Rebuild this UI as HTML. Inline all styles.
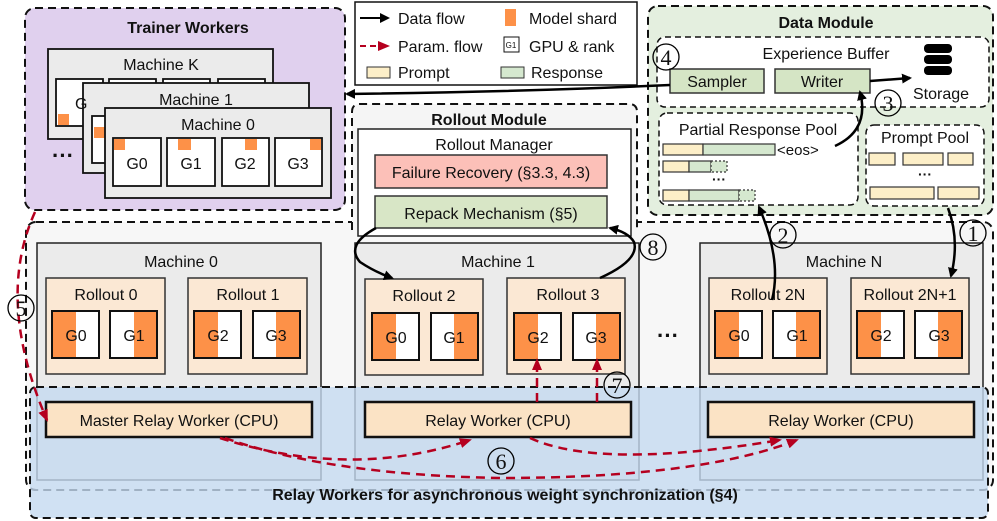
<!DOCTYPE html>
<html><head><meta charset="utf-8"><style>
html,body{margin:0;padding:0;background:#fff}
svg{display:block}
text{font-family:"Liberation Sans",sans-serif;fill:#111}
</style></head><body>
<svg width="997" height="521" viewBox="0 0 997 521" xmlns="http://www.w3.org/2000/svg">
<defs>
<marker id="ab" markerWidth="10" markerHeight="10" refX="8" refY="5" orient="auto" markerUnits="userSpaceOnUse"><path d="M0,0 L10,5 L0,10 z" fill="#000"/></marker>
<marker id="ar" markerWidth="12" markerHeight="10" refX="10" refY="5" orient="auto" markerUnits="userSpaceOnUse"><path d="M0,0 L12,5 L0,10 z" fill="#b5001f"/></marker>
</defs>

<!-- lower big container -->
<rect x="26" y="222" width="967" height="268" rx="10" fill="#f7f7f7" stroke="#111" stroke-width="2" stroke-dasharray="8,5"/>

<!-- machines -->
<g stroke="#222" stroke-width="1.5">
<rect x="37" y="243" width="284" height="237" fill="#ebebeb"/>
<rect x="355" y="243" width="284" height="237" fill="#ebebeb"/>
<rect x="700" y="243" width="283" height="237" fill="#ebebeb"/>
</g>
<g font-size="16" text-anchor="middle">
<text x="181" y="267">Machine 0</text>
<text x="498" y="267">Machine 1</text>
<text x="844" y="267">Machine N</text>
</g>

<!-- rollouts -->
<g stroke="#333" stroke-width="1.5" fill="#fbe8d4">
<rect x="46" y="278" width="119" height="96"/>
<rect x="188" y="278" width="119" height="96"/>
<rect x="365" y="279" width="118" height="96"/>
<rect x="507" y="278" width="118" height="96"/>
<rect x="709" y="278" width="118" height="96"/>
<rect x="851" y="278" width="118" height="96"/>
</g>
<g font-size="16" text-anchor="middle">
<text x="106" y="300">Rollout 0</text>
<text x="248" y="300">Rollout 1</text>
<text x="424" y="301">Rollout 2</text>
<text x="568" y="300">Rollout 3</text>
<text x="768" y="300">Rollout 2N</text>
<text x="910" y="300">Rollout 2N+1</text>
</g>
<!-- GPU boxes: left-orange (even) and right-orange (odd) -->
<g stroke="#111" stroke-width="2">
<!-- pair template -->
<g><rect x="52" y="311" width="47" height="47" fill="#fff"/><rect x="52" y="311" width="24" height="47" fill="#fd9148" stroke="none"/><rect x="52" y="311" width="47" height="47" fill="none"/></g>
<g><rect x="110" y="311" width="47" height="47" fill="#fff"/><rect x="134" y="311" width="23" height="47" fill="#fd9148" stroke="none"/><rect x="110" y="311" width="47" height="47" fill="none"/></g>
<g><rect x="194" y="311" width="47" height="47" fill="#fff"/><rect x="194" y="311" width="24" height="47" fill="#fd9148" stroke="none"/><rect x="194" y="311" width="47" height="47" fill="none"/></g>
<g><rect x="253" y="311" width="47" height="47" fill="#fff"/><rect x="276" y="311" width="24" height="47" fill="#fd9148" stroke="none"/><rect x="253" y="311" width="47" height="47" fill="none"/></g>

<g><rect x="372" y="313" width="47" height="47" fill="#fff"/><rect x="372" y="313" width="24" height="47" fill="#fd9148" stroke="none"/><rect x="372" y="313" width="47" height="47" fill="none"/></g>
<g><rect x="431" y="313" width="47" height="47" fill="#fff"/><rect x="454" y="313" width="24" height="47" fill="#fd9148" stroke="none"/><rect x="431" y="313" width="47" height="47" fill="none"/></g>
<g><rect x="514" y="313" width="47" height="47" fill="#fff"/><rect x="514" y="313" width="24" height="47" fill="#fd9148" stroke="none"/><rect x="514" y="313" width="47" height="47" fill="none"/></g>
<g><rect x="573" y="313" width="47" height="47" fill="#fff"/><rect x="596" y="313" width="24" height="47" fill="#fd9148" stroke="none"/><rect x="573" y="313" width="47" height="47" fill="none"/></g>

<g><rect x="715" y="311" width="47" height="47" fill="#fff"/><rect x="715" y="311" width="24" height="47" fill="#fd9148" stroke="none"/><rect x="715" y="311" width="47" height="47" fill="none"/></g>
<g><rect x="773" y="311" width="47" height="47" fill="#fff"/><rect x="796" y="311" width="24" height="47" fill="#fd9148" stroke="none"/><rect x="773" y="311" width="47" height="47" fill="none"/></g>
<g><rect x="857" y="311" width="47" height="47" fill="#fff"/><rect x="857" y="311" width="24" height="47" fill="#fd9148" stroke="none"/><rect x="857" y="311" width="47" height="47" fill="none"/></g>
<g><rect x="915" y="311" width="47" height="47" fill="#fff"/><rect x="938" y="311" width="24" height="47" fill="#fd9148" stroke="none"/><rect x="915" y="311" width="47" height="47" fill="none"/></g>
</g>
<g font-size="16" text-anchor="middle">
<text x="76" y="341">G0</text><text x="134" y="341">G1</text><text x="218" y="341">G2</text><text x="276" y="341">G3</text>
<text x="396" y="343">G0</text><text x="454" y="343">G1</text><text x="538" y="343">G2</text><text x="596" y="343">G3</text>
<text x="739" y="341">G0</text><text x="797" y="341">G1</text><text x="881" y="341">G2</text><text x="939" y="341">G3</text>
</g>
<text x="668" y="343" font-size="22" font-weight="bold" text-anchor="middle">···</text>

<!-- blue relay area -->
<rect x="30" y="387" width="958" height="131" rx="6" fill="#c4daf0" fill-opacity="0.8" stroke="#111" stroke-width="2" stroke-dasharray="8,5"/>
<g stroke="#111" stroke-width="2.5" fill="#fbe3c5">
<rect x="46" y="402" width="266" height="35"/>
<rect x="365" y="402" width="266" height="35"/>
<rect x="708" y="402" width="266" height="35"/>
</g>
<g font-size="16" text-anchor="middle">
<text x="179" y="426">Master Relay Worker (CPU)</text>
<text x="498" y="426">Relay Worker (CPU)</text>
<text x="841" y="426">Relay Worker (CPU)</text>
</g>
<text x="505" y="500" font-size="16" font-weight="bold" text-anchor="middle">Relay Workers for asynchronous weight synchronization (§4)</text>

<!-- Trainer Workers -->
<rect x="25" y="8" width="320" height="202" rx="10" fill="#e0d0ee" stroke="#111" stroke-width="2" stroke-dasharray="8,5"/>
<text x="188" y="33" font-size="16" font-weight="bold" text-anchor="middle">Trainer Workers</text>
<g stroke="#111" stroke-width="1.8">
<rect x="48" y="49" width="225" height="90" fill="#ebebeb"/>
<rect x="56" y="79" width="47" height="47" fill="#fff"/><rect x="109" y="79" width="47" height="47" fill="#fff"/><rect x="163" y="79" width="47" height="47" fill="#fff"/><rect x="218" y="79" width="47" height="47" fill="#fff"/>
<rect x="58" y="114" width="11" height="11" fill="#fd9148" stroke="none"/>
<rect x="83" y="83" width="226" height="90" fill="#ebebeb"/>
<rect x="92" y="116" width="47" height="47" fill="#fff"/>
<rect x="94" y="127" width="11" height="11" fill="#fd9148" stroke="none"/>
<rect x="105" y="108" width="226" height="90" fill="#ebebeb"/>
<rect x="113" y="138" width="48" height="48" fill="#fff"/><rect x="167" y="138" width="48" height="48" fill="#fff"/><rect x="222" y="138" width="47" height="48" fill="#fff"/><rect x="275" y="138" width="47" height="48" fill="#fff"/>
</g>
<g fill="#fd9148">
<rect x="114" y="139" width="11" height="11"/><rect x="178" y="139" width="13" height="11"/><rect x="245" y="139" width="12" height="11"/><rect x="310" y="139" width="11" height="11"/>
</g>
<g font-size="16" text-anchor="middle">
<text x="161" y="70">Machine K</text>
<text x="196" y="105">Machine 1</text>
<text x="218" y="130">Machine 0</text>
<text x="75" y="109" text-anchor="start">G</text>
<text x="137" y="169">G0</text><text x="191" y="169">G1</text><text x="245" y="169">G2</text><text x="298" y="169">G3</text>
</g>
<text x="63" y="163" font-size="22" font-weight="bold" text-anchor="middle">···</text>

<!-- Legend -->
<rect x="355" y="2" width="282" height="83" fill="#fff" stroke="#111" stroke-width="1.5"/>
<line x1="360" y1="18" x2="388" y2="18" stroke="#000" stroke-width="2" marker-end="url(#ab)"/>
<line x1="360" y1="46" x2="388" y2="46" stroke="#b5001f" stroke-width="2" stroke-dasharray="6,4" marker-end="url(#ar)"/>
<rect x="367" y="67" width="23" height="11" fill="#fdefc8" stroke="#333"/>
<rect x="505" y="9" width="11" height="17" fill="#fd9148"/>
<rect x="504" y="37" width="15" height="15" fill="#fff" stroke="#111"/>
<text x="511" y="48" font-size="8" text-anchor="middle">G1</text>
<rect x="501" y="67" width="23" height="11" fill="#d5e8cf" stroke="#333"/>
<g font-size="16">
<text x="398" y="24">Data flow</text><text x="398" y="52">Param. flow</text><text x="398" y="78">Prompt</text>
<text x="529" y="24">Model shard</text><text x="529" y="52">GPU &amp; rank</text><text x="531" y="78">Response</text>
</g>

<!-- Data module -->
<rect x="648" y="6" width="345" height="209" rx="10" fill="#e4efdf" stroke="#111" stroke-width="2" stroke-dasharray="8,5"/>
<text x="826" y="28" font-size="16" font-weight="bold" text-anchor="middle">Data Module</text>
<rect x="657" y="37" width="332" height="70" rx="8" fill="#fff" stroke="#111" stroke-width="1.5" stroke-dasharray="6,4"/>
<text x="826" y="59" font-size="16" text-anchor="middle">Experience Buffer</text>
<rect x="670" y="69" width="94" height="24" fill="#d5e5c5" stroke="#333" stroke-width="1.5"/>
<rect x="775" y="69" width="95" height="24" fill="#d5e5c5" stroke="#333" stroke-width="1.5"/>
<text x="717" y="87" font-size="16" text-anchor="middle">Sampler</text>
<text x="822" y="87" font-size="16" text-anchor="middle">Writer</text>
<!-- storage icon -->
<g fill="#000">
<rect x="924" y="44" width="28" height="9" rx="4"/><rect x="924" y="55" width="28" height="9" rx="4"/><rect x="924" y="66" width="28" height="9" rx="4"/>
</g>
<text x="941" y="99" font-size="16" text-anchor="middle">Storage</text>
<line x1="870" y1="81" x2="910" y2="78" stroke="#000" stroke-width="2.5" marker-end="url(#ab)"/>

<rect x="659" y="113" width="199" height="92" rx="8" fill="#fff" stroke="#111" stroke-width="1.5" stroke-dasharray="6,4"/>
<text x="758" y="135" font-size="16" text-anchor="middle">Partial Response Pool</text>
<g stroke="#333" stroke-width="1.2">
<rect x="663" y="144" width="40" height="11" fill="#fdefc8"/><rect x="703" y="144" width="72" height="11" fill="#d5e8cf"/>
<rect x="663" y="161" width="26" height="11" fill="#fdefc8"/><rect x="689" y="161" width="22" height="11" fill="#d5e8cf"/><rect x="711" y="161" width="16" height="11" fill="#d5e8cf" stroke-dasharray="2,2"/>
<rect x="663" y="190" width="26" height="11" fill="#fdefc8"/><rect x="689" y="190" width="50" height="11" fill="#d5e8cf"/><rect x="739" y="190" width="16" height="11" fill="#d5e8cf" stroke-dasharray="2,2"/>
</g>
<text x="777" y="155" font-size="15">&lt;eos&gt;</text>
<text x="719" y="184" font-size="14" font-weight="bold" text-anchor="middle">···</text>

<rect x="866" y="125" width="118" height="81" rx="8" fill="#fff" stroke="#111" stroke-width="1.5" stroke-dasharray="6,4"/>
<text x="925" y="143" font-size="16" text-anchor="middle">Prompt Pool</text>
<g stroke="#333" stroke-width="1.2" fill="#fdefc8">
<rect x="869" y="153" width="26" height="12"/><rect x="903" y="153" width="40" height="12"/><rect x="948" y="153" width="25" height="12"/>
<rect x="870" y="187" width="64" height="12"/><rect x="938" y="187" width="41" height="12"/>
</g>
<text x="925" y="179" font-size="14" font-weight="bold" text-anchor="middle">···</text>

<!-- Rollout module -->
<path d="M352,230 L352,112 Q352,104 360,104 L629,104 Q637,104 637,112 L637,230" fill="#f5f5f5" stroke="#111" stroke-width="2" stroke-dasharray="8,5"/>
<text x="489" y="125" font-size="16" font-weight="bold" text-anchor="middle">Rollout Module</text>
<rect x="358" y="129" width="273" height="107" fill="#fff" stroke="#222" stroke-width="1.5"/>
<text x="494" y="150" font-size="16" text-anchor="middle">Rollout Manager</text>
<rect x="375" y="155" width="232" height="33" fill="#fcc0b8" stroke="#333" stroke-width="1.5"/>
<text x="491" y="178" font-size="16" text-anchor="middle">Failure Recovery (§3.3, 4.3)</text>
<rect x="375" y="196" width="232" height="32" fill="#d8e6c6" stroke="#333" stroke-width="1.5"/>
<text x="491" y="219" font-size="16" text-anchor="middle">Repack Mechanism (§5)</text>

<!-- data flow arrows -->
<g fill="none" stroke="#000" stroke-width="2.5">
<path d="M670,85 Q520,92 347,94" marker-end="url(#ab)"/>
<path d="M835,146 Q870,130 860,92" marker-end="url(#ab)"/>
<path d="M772,300 Q782,260 759,207" marker-end="url(#ab)"/>
<path d="M948,208 Q960,240 951,276" marker-end="url(#ab)"/>
<path d="M376,228 Q345,245 360,262 Q375,272 392,278" marker-end="url(#ab)"/>
<path d="M600,278 Q640,260 634,242 Q628,232 610,228" marker-end="url(#ab)"/>
</g>

<!-- param flow -->
<g fill="none" stroke="#b5001f" stroke-width="2.5" stroke-dasharray="9,6">
<path d="M35,212 Q-5,300 47,420" marker-end="url(#ar)"/>
<path d="M220,438 Q350,480 470,440" marker-end="url(#ar)"/>
<path d="M225,438 Q330,475 500,478 Q700,478 797,440" marker-end="url(#ar)"/>
<path d="M530,438 Q600,470 780,440" marker-end="url(#ar)"/>
<path d="M537,402 L537,360" marker-end="url(#ar)"/>
<path d="M597,402 L597,360" marker-end="url(#ar)"/>
</g>

<!-- circled numbers -->
<g fill="#fff" fill-opacity="0" stroke="#000" stroke-width="1.3">
<circle cx="973" cy="233" r="13"/><circle cx="783" cy="235" r="13"/><circle cx="888" cy="103" r="13"/><circle cx="666" cy="57" r="13"/>
<circle cx="21" cy="308" r="13"/><circle cx="501" cy="461" r="13"/><circle cx="617" cy="385" r="13"/><circle cx="653" cy="247" r="13"/>
</g>
<g font-family="Liberation Serif,serif" font-size="22" text-anchor="middle">
<text x="973" y="241" style="font-family:'Liberation Serif',serif">1</text>
<text x="783" y="243" style="font-family:'Liberation Serif',serif">2</text>
<text x="888" y="111" style="font-family:'Liberation Serif',serif">3</text>
<text x="666" y="65" style="font-family:'Liberation Serif',serif">4</text>
<text x="21" y="316" style="font-family:'Liberation Serif',serif">5</text>
<text x="501" y="469" style="font-family:'Liberation Serif',serif">6</text>
<text x="617" y="393" style="font-family:'Liberation Serif',serif">7</text>
<text x="653" y="255" style="font-family:'Liberation Serif',serif">8</text>
</g>
</svg>
</body></html>
